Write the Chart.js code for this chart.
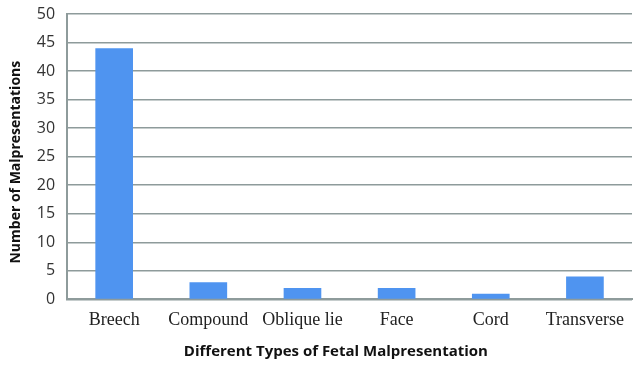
<!DOCTYPE html>
<html><head><meta charset="utf-8">
<script src="https://cdn.jsdelivr.net/npm/chart.js@4"></script>
<style>html,body{margin:0;padding:0;background:#fff;}#w{width:644px;height:365px;}</style>
</head><body><div id="w"><canvas id="c"></canvas></div>
<script>
const categories = ["Breech","Compound","Oblique lie","Face","Cord","Transverse"];
const counts = [44,3,2,2,1,4];
const yTicks = [0,5,10,15,20,25,30,35,40,45,50];
new Chart(document.getElementById('c'),{
  type:'bar',
  data:{labels:categories,datasets:[{data:counts,backgroundColor:'#4F94F0',barPercentage:1,categoryPercentage:0.4}]},
  options:{
    responsive:true,maintainAspectRatio:false,animation:false,
    layout:{padding:{top:14,right:12,left:8,bottom:4}},
    plugins:{legend:{display:false},tooltip:{enabled:false}},
    scales:{
      x:{grid:{display:false,drawTicks:false},border:{display:true,color:'#8E9B9B',width:2},
        ticks:{font:{family:'Liberation Serif',size:18},color:'#222',padding:10},
        title:{display:true,text:'Different Types of Fetal Malpresentation       ',font:{family:'Open Sans',size:15,weight:'bold'},color:'#111',padding:{top:2,bottom:0}}},
      y:{min:0,max:50,afterBuildTicks:(s)=>{s.ticks=yTicks.map(v=>({value:v}));},
        afterFit:(s)=>{s.paddingTop=0;},
        grid:{color:'#8E9B9B',lineWidth:1.5,drawTicks:false},border:{display:true,color:'#8E9B9B',width:2},
        ticks:{font:{family:'Open Sans',size:16},color:'#333',padding:12},
        title:{display:true,text:'Number of Malpresentations   ',font:{family:'Open Sans',size:14,weight:'bold'},color:'#111',padding:{top:0,bottom:0}}}
    }
  }
});
</script></body></html>
